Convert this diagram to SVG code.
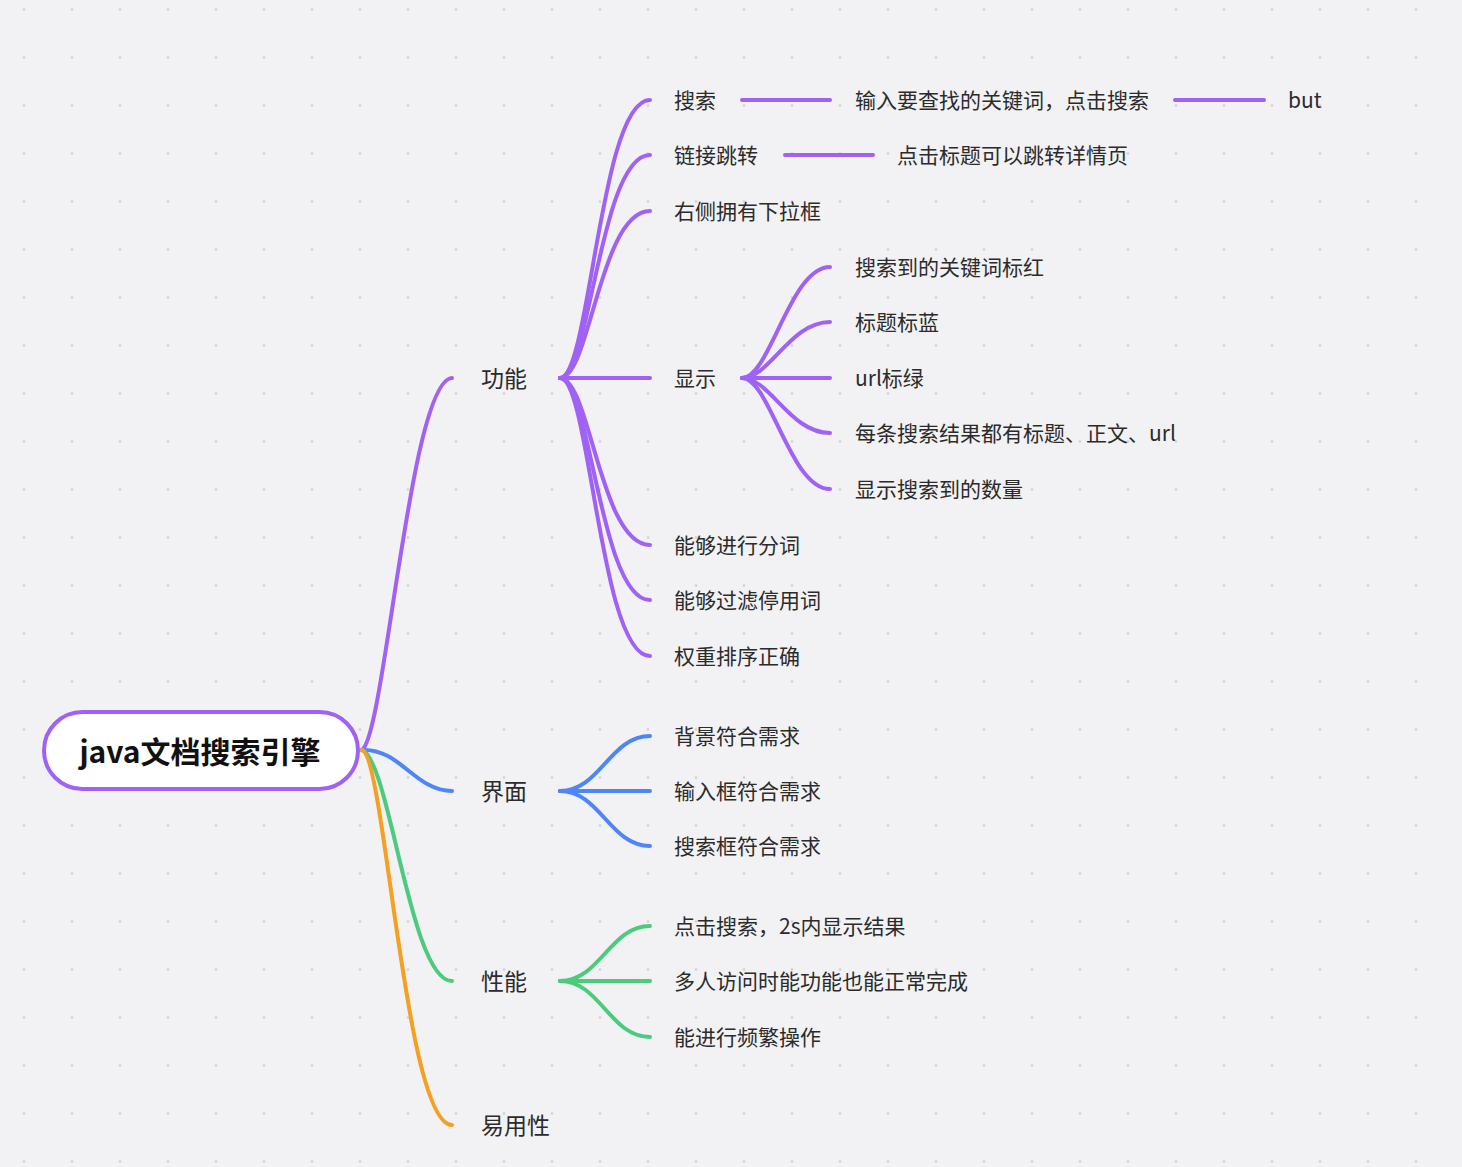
<svg xmlns="http://www.w3.org/2000/svg" width="1462" height="1167" viewBox="0 0 1462 1167">
<defs>
<pattern id="dots" patternUnits="userSpaceOnUse" x="0" y="0" width="48" height="48">
<rect x="22.8" y="8.3" width="2.4" height="2.4" fill="#d2d2d6"/>
</pattern>
<style>
.t{font-family:"Noto Sans CJK SC","Noto Sans",sans-serif;fill:#2b2b2b;dominant-baseline:central}
.l1{font-size:23px}
.l2{font-size:21px}
.root{font-size:30px;font-weight:bold;fill:#111}
.c{fill:none;stroke-linecap:round;stroke-width:4}
.p{stroke:#a062f4}
.b{stroke:#4f86f7}
.g{stroke:#4ccb7d}
.o{stroke:#f4a023}
</style>
</defs>
<rect width="1462" height="1167" fill="#f2f2f4"/>
<rect width="1462" height="1167" fill="url(#dots)"/>
<g id="connectors">
<path class="c p" d="M362,750 C385,735 410,380 452,378"/>
<path class="c b" d="M362,750 C400,748 415,791 452,791"/>
<path class="c g" d="M362,750 C390,760 410,981 452,981"/>
<path class="c o" d="M362,750 C385,755 405,1125 452,1125"/>
<path class="c p" d="M560,378 C590,378 600,100 650,100"/>
<path class="c p" d="M560,378 C590,378 600,155 650,155"/>
<path class="c p" d="M560,378 C590,378 600,211 650,211"/>
<path class="c p" d="M560,378 L650,378"/>
<path class="c p" d="M560,378 C590,378 600,545 650,545"/>
<path class="c p" d="M560,378 C590,378 600,600 650,600"/>
<path class="c p" d="M560,378 C590,378 600,656 650,656"/>
<path class="c p" d="M742,100 L830,100"/>
<path class="c p" d="M1175,100 L1264,100"/>
<path class="c p" d="M785,155 L873,155"/>
<path class="c p" d="M742,378 C770,378 790,267 830,267"/>
<path class="c p" d="M742,378 C770,378 790,322 830,322"/>
<path class="c p" d="M742,378 L830,378"/>
<path class="c p" d="M742,378 C770,378 790,433 830,433"/>
<path class="c p" d="M742,378 C770,378 790,489 830,489"/>
<path class="c b" d="M560,791 C600,791 610,736 650,736"/>
<path class="c b" d="M560,791 L650,791"/>
<path class="c b" d="M560,791 C600,791 610,846 650,846"/>
<path class="c g" d="M560,981 C600,981 610,926 650,926"/>
<path class="c g" d="M560,981 L650,981"/>
<path class="c g" d="M560,981 C600,981 610,1037 650,1037"/>
</g>
<g id="root">
<rect x="44" y="712" width="314" height="77" rx="38.5" fill="#fff" stroke="#a062f4" stroke-width="4"/>
<text class="t root" x="200" y="750" text-anchor="middle">java文档搜索引擎</text>
</g>
<g id="n-gongneng"><text class="t l1" x="481" y="377">功能</text></g>
<g id="n-jiemian"><text class="t l1" x="481" y="790">界面</text></g>
<g id="n-xingneng"><text class="t l1" x="481" y="980">性能</text></g>
<g id="n-yiyong"><text class="t l1" x="481" y="1124">易用性</text></g>
<g id="n-sousuo"><text class="t l2" x="674" y="99">搜索</text></g>
<g id="n-shuru"><text class="t l2" x="855" y="99">输入要查找的关键词，点击搜索</text></g>
<g id="n-but"><text class="t l2" x="1288" y="99">but</text></g>
<g id="n-lianjie"><text class="t l2" x="674" y="154">链接跳转</text></g>
<g id="n-dianji"><text class="t l2" x="897" y="154">点击标题可以跳转详情页</text></g>
<g id="n-youce"><text class="t l2" x="674" y="210">右侧拥有下拉框</text></g>
<g id="n-xianshi"><text class="t l2" x="674" y="377">显示</text></g>
<g id="n-x1"><text class="t l2" x="855" y="266">搜索到的关键词标红</text></g>
<g id="n-x2"><text class="t l2" x="855" y="321">标题标蓝</text></g>
<g id="n-x3"><text class="t l2" x="855" y="377">url标绿</text></g>
<g id="n-x4"><text class="t l2" x="855" y="432">每条搜索结果都有标题、正文、url</text></g>
<g id="n-x5"><text class="t l2" x="855" y="488">显示搜索到的数量</text></g>
<g id="n-fenci"><text class="t l2" x="674" y="544">能够进行分词</text></g>
<g id="n-guolv"><text class="t l2" x="674" y="599">能够过滤停用词</text></g>
<g id="n-quanzhong"><text class="t l2" x="674" y="655">权重排序正确</text></g>
<g id="n-j1"><text class="t l2" x="674" y="735">背景符合需求</text></g>
<g id="n-j2"><text class="t l2" x="674" y="790">输入框符合需求</text></g>
<g id="n-j3"><text class="t l2" x="674" y="845">搜索框符合需求</text></g>
<g id="n-p1"><text class="t l2" x="674" y="925">点击搜索，2s内显示结果</text></g>
<g id="n-p2"><text class="t l2" x="674" y="980">多人访问时能功能也能正常完成</text></g>
<g id="n-p3"><text class="t l2" x="674" y="1036">能进行频繁操作</text></g>
</svg>
